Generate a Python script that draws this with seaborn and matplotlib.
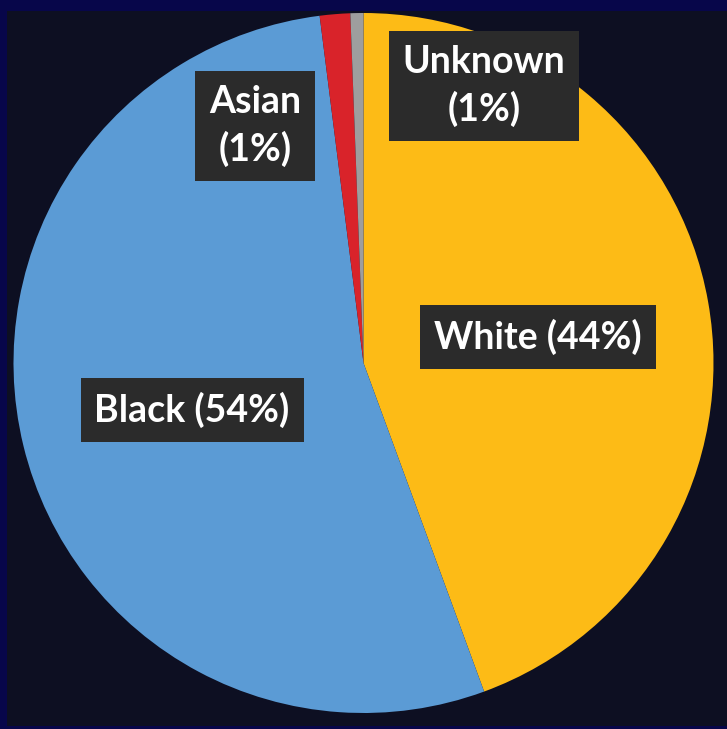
import matplotlib
matplotlib.use("Agg")
import matplotlib.pyplot as plt
import seaborn as sns
from matplotlib.patches import Rectangle

# Share of people by race (percent)
groups = ["White", "Black", "Asian", "Unknown"]
shares = [44.4, 53.6, 1.4, 0.6]
colors = ["#FDBB16", "#5B9BD5", "#D9232A", "#9E9E9E"]

sns.set_theme(style="white")
plt.rcParams["font.family"] = ["Lato", "DejaVu Sans"]

W, H = 727, 729
fig = plt.figure(figsize=(W / 100, H / 100), dpi=100, facecolor="#0D0F22")
ax = fig.add_axes([0, 0, 1, 1])

# navy frame strips on the left, top and bottom edges
frame = "#07064A"
for xy, w, h in [((0, 0), 7, H), ((0, H - 11), W, 11), ((0, 0), W, 3)]:
    ax.add_patch(Rectangle(xy, w, h, facecolor=frame, edgecolor="none",
                           zorder=0))

cx, cy, r = 363.5, 366, 350
ax.pie(shares, colors=colors, startangle=90, counterclock=False,
       center=(cx, cy), radius=r, frame=True,
       wedgeprops=dict(linewidth=0, zorder=1))
ax.set_xlim(0, W)
ax.set_ylim(0, H)
ax.set_aspect("equal")
ax.axis("off")

# label positions (x, y) in pixel-like data units
label_pos = {
    "White": (538, 392, False),
    "Black": (192, 319, False),
    "Asian": (255, 603, True),
    "Unknown": (484, 643, True),
}
for g, s in zip(groups, shares):
    x, y, two_line = label_pos[g]
    pct = f"({round(s):d}%)"
    txt = f"{g}\n{pct}" if two_line else f"{g} {pct}"
    ax.text(x, y, txt, ha="center", va="center", color="white",
            fontsize=27, fontweight="bold", linespacing=1.4, zorder=5,
            bbox=dict(boxstyle="square,pad=0.37", facecolor="#2B2B2B",
                      edgecolor="none"))

fig.savefig("out.png", dpi=100, facecolor=fig.get_facecolor())
